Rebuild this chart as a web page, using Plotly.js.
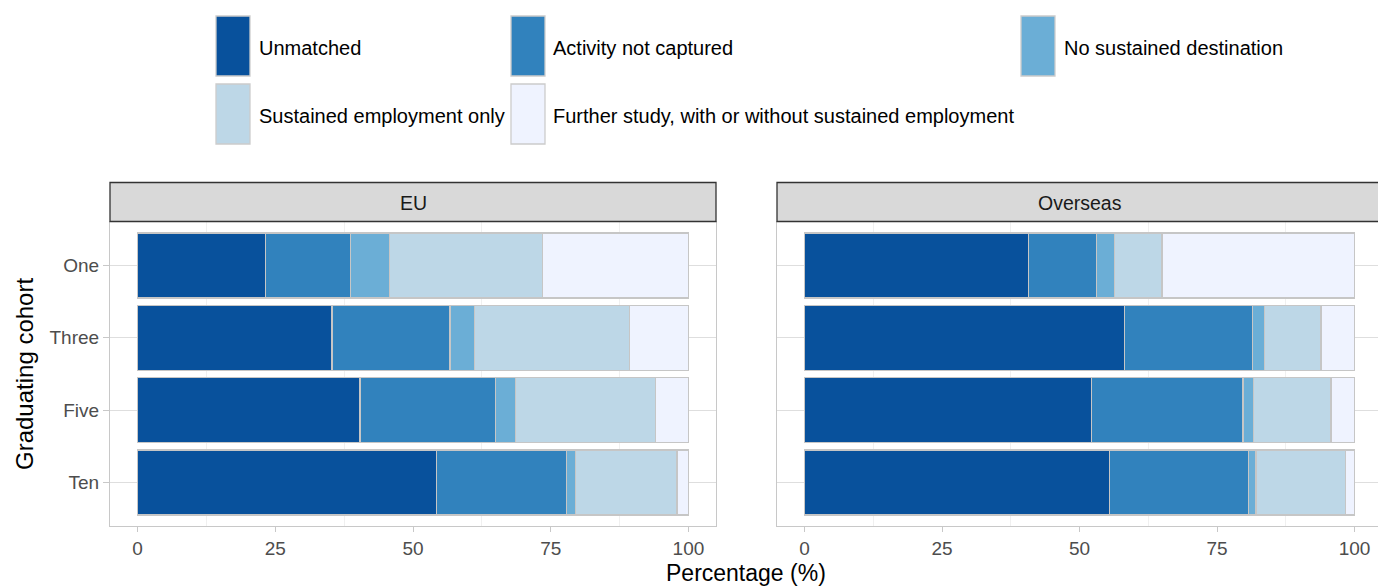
<!DOCTYPE html>
<html>
<head>
<meta charset="utf-8">
<script src="https://cdn.plot.ly/plotly-3.0.1.min.js"></script>
<style>html,body{margin:0;padding:0;overflow:hidden;background:#fff;}</style>
</head>
<body>
<div id="chart"></div>
<script>
// ---- data ----
const cohorts = ['One', 'Three', 'Five', 'Ten'];
const categories = ['Unmatched', 'Activity not captured', 'No sustained destination',
  'Sustained employment only', 'Further study, with or without sustained employment'];
const colors = ['#08519c', '#3182bd', '#6baed6', '#bdd7e7', '#eff3ff'];
const panels = ['EU', 'Overseas'];

// EU values per category (order: One, Three, Five, Ten)
const euUnmatched = [23.2, 35.3, 40.4, 54.3];
const euActivity = [15.4, 21.4, 24.6, 23.5];
const euNoSustained = [7.1, 4.5, 3.6, 1.7];
const euEmployment = [27.8, 28.1, 25.4, 18.4];
const euFurther = [26.5, 10.7, 6.0, 2.1];

// Overseas values per category
const osUnmatched = [40.7, 58.2, 52.2, 55.5];
const osActivity = [12.4, 23.2, 27.5, 25.2];
const osNoSustained = [3.2, 2.2, 1.9, 1.4];
const osEmployment = [8.7, 10.3, 14.1, 16.3];
const osFurther = [35.0, 6.1, 4.3, 1.6];

const xTicks = [0, 25, 50, 75, 100];

// ---- layout geometry (pixels) ----
const W = 1384, H = 587;
const mL = 110, mR = 2, mT = 222, mB = 61;
const plotW = W - mL - mR, plotH = H - mT - mB;
const px = p => (p - mL) / plotW;
const py = p => (H - mB - p) / plotH;
const dom1 = [0, px(716)];
const dom2 = [px(777), 1];

const FONT = '"Liberation Sans", Arial, sans-serif';

const euSeries = [euUnmatched, euActivity, euNoSustained, euEmployment, euFurther];
const osSeries = [osUnmatched, osActivity, osNoSustained, osEmployment, osFurther];

const traces = [];
[euSeries, osSeries].forEach((series, pi) => {
  series.forEach((vals, ci) => {
    traces.push({
      type: 'bar', orientation: 'h',
      x: vals, y: cohorts,
      name: categories[ci],
      xaxis: pi === 0 ? 'x' : 'x2',
      yaxis: pi === 0 ? 'y' : 'y2',
      width: 0.9,
      marker: {color: colors[ci], line: {color: '#c6c6c6', width: 1.3}},
      showlegend: false,
      hovertemplate: '%{y}: %{x}%<extra>' + categories[ci] + '</extra>'
    });
  });
});

const xaxisBase = {
  range: [-5, 105], tickvals: xTicks, ticktext: xTicks.map(String),
  showgrid: false, zeroline: false,
  ticks: 'outside', ticklen: 5, tickcolor: '#c8c8c8', tickwidth: 1,
  tickfont: {family: FONT, size: 19, color: '#4d4d4d'},
  showline: true, mirror: true, linecolor: '#c8c8c8', linewidth: 1.2,
  minor: {tickvals: [12.5, 37.5, 62.5, 87.5], showgrid: true, gridcolor: '#f0f0f0', gridwidth: 0.6, ticks: ''},
  fixedrange: true
};
const yaxisBase = {
  type: 'category', categoryorder: 'array', categoryarray: cohorts.slice().reverse(),
  range: [-0.6, 3.6],
  showgrid: true, gridcolor: '#dedede', gridwidth: 1.2,
  ticks: 'outside', ticklen: 6, tickcolor: '#c8c8c8', tickwidth: 1,
  tickfont: {family: FONT, size: 19, color: '#4d4d4d'},
  showline: true, mirror: true, linecolor: '#c8c8c8', linewidth: 1.2,
  zeroline: false, fixedrange: true
};

const shapes = [];
const annotations = [];

// facet strips
[[dom1, 'EU'], [dom2, 'Overseas']].forEach(([d, label]) => {
  shapes.push({type: 'rect', xref: 'paper', yref: 'paper',
    x0: d[0], x1: d[1], y0: py(221.5), y1: py(182.5),
    fillcolor: '#d9d9d9', line: {color: '#333333', width: 1.3}, layer: 'above'});
  annotations.push({xref: 'paper', yref: 'paper', x: (d[0] + d[1]) / 2, y: py(203),
    text: label, showarrow: false, xanchor: 'center', yanchor: 'middle',
    font: {family: FONT, size: 19.5, color: '#1a1a1a'}});
});

// legend (drawn)
const legendPos = [
  [216, 16, 257], [511, 16, 551], [1021, 16, 1062],
  [216, 84, 257], [511, 84, 551]
];
categories.forEach((c, i) => {
  const [sx, sy, tx] = legendPos[i];
  shapes.push({type: 'rect', xref: 'paper', yref: 'paper',
    x0: px(sx), x1: px(sx + 34), y0: py(sy + 60), y1: py(sy),
    fillcolor: colors[i], line: {color: '#cccccc', width: 1.3}});
  annotations.push({xref: 'paper', yref: 'paper', x: px(tx), y: py(sy + 32),
    text: c, showarrow: false, xanchor: 'left', yanchor: 'middle',
    font: {family: FONT, size: 20, color: '#000000'}});
});

// axis titles
annotations.push({xref: 'paper', yref: 'paper', x: px(746), y: py(573),
  text: 'Percentage (%)', showarrow: false, xanchor: 'center', yanchor: 'middle',
  font: {family: FONT, size: 23, color: '#000000'}});
annotations.push({xref: 'paper', yref: 'paper', x: px(24), y: py(374),
  text: 'Graduating cohort', showarrow: false, textangle: -90,
  xanchor: 'center', yanchor: 'middle',
  font: {family: FONT, size: 24, color: '#000000'}});

const layout = {
  width: W, height: H,
  margin: {l: mL, r: mR, t: mT, b: mB, pad: 0},
  paper_bgcolor: '#ffffff', plot_bgcolor: '#ffffff',
  barmode: 'stack', bargap: 0.1,
  xaxis: Object.assign({}, xaxisBase, {domain: dom1, anchor: 'y'}),
  xaxis2: Object.assign({}, xaxisBase, {domain: dom2, anchor: 'y2'}),
  yaxis: Object.assign({}, yaxisBase, {anchor: 'x'}),
  yaxis2: Object.assign({}, yaxisBase, {anchor: 'x2', showticklabels: false, ticks: ''}),
  shapes: shapes, annotations: annotations,
  showlegend: false,
  font: {family: FONT}
};

Plotly.newPlot('chart', traces, layout, {displayModeBar: false, responsive: false});
</script>
</body>
</html>
